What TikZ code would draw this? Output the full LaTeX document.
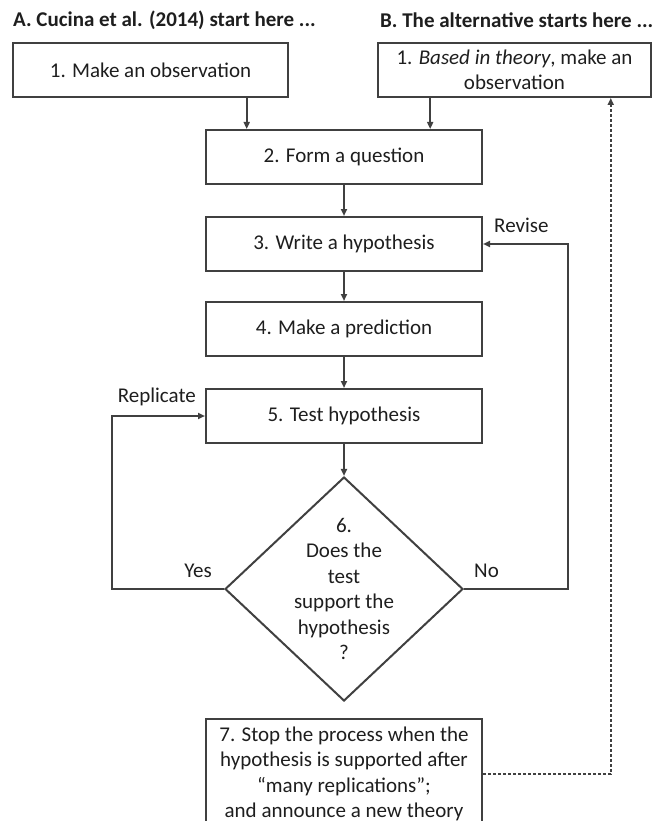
\documentclass[tikz,border=0pt]{standalone}
\usepackage{fontspec}
\setmainfont{Carlito}
\usetikzlibrary{shapes.geometric, arrows.meta, positioning, calc}
\definecolor{linegray}{HTML}{404040}
\definecolor{textgray}{HTML}{1E1E1E}

\begin{document}
\begin{tikzpicture}[
      x=1pt, y=-1pt,
      node distance=31pt,
      every node/.style={font=\fontsize{21}{25.5}\selectfont, text=textgray},
      stepbox/.style={rectangle, draw=linegray, line width=2pt, minimum width=276pt, minimum height=54pt, align=center, inner sep=2pt},
      decision/.style={diamond, draw=linegray, line width=2pt, minimum width=238pt, minimum height=224pt, inner sep=0pt},
      heading/.style={font=\bfseries\fontsize{21}{25.5}\selectfont, anchor=west, inner sep=0pt},
      arrow/.style={-{Triangle[length=7pt, width=6pt]}, draw=linegray, line width=1.8pt}
    ]
    \useasboundingbox (0,0) rectangle (653,821);

    % the two starting points
    \node[heading] (headA) at (13,20) {A. Cucina et al. (2014) start here ...};
    \node[heading] (headB) at (380,20) {B. The alternative starts here ...};
    \node[stepbox, minimum width=275pt] (obsA) at (150.5,70) {1. Make an observation};
    \node[stepbox, minimum width=273pt] (obsB) at (514.5,70) {1. \textit{Based in theory}, make an\\observation};

    % main chain
    \node[stepbox] (q2) at (344,157) {2. Form a question};
    \node[stepbox, below=of q2] (q3) {3. Write a hypothesis};
    \node[stepbox, below=29pt of q3] (q4) {4. Make a prediction};
    \node[stepbox, below=of q4] (q5) {5. Test hypothesis};
    \node[decision, below=32pt of q5] (q6) {};
    \node[align=center, inner sep=0pt] (q6text) at (q6) {6.\\Does the\\test\\support the\\hypothesis\\?};
    \node[stepbox, minimum height=110pt, below=16pt of q6] (q7) {7. Stop the process when the\\hypothesis is supported after\\“many replications”;\\and announce a new theory};

    \coordinate (inA) at ($(q2.north west)!0.15!(q2.north east)$);
    \coordinate (inB) at ($(q2.north west)!0.81!(q2.north east)$);
    \coordinate (backB) at ($(obsB.south west)!0.85!(obsB.south east)$);

    \draw[arrow] (obsA.south -| inA) -- (inA);
    \draw[arrow] (obsB.south -| inB) -- (inB);
    \draw[arrow] (q2) -- (q3);
    \draw[arrow] (q3) -- (q4);
    \draw[arrow] (q4) -- (q5);
    \draw[arrow] (q5) -- (q6);

    % loops
    \draw[arrow] (q6.west) -- ++(-112,0) |- (q5.west);
    \draw[arrow] (q6.east) -- ++(104,0) |- (q3.east);
    \node[above left=11pt and 12pt of q6.west, inner sep=0pt] (yes) {Yes};
    \node[above right=11pt and 10pt of q6.east, inner sep=0pt] (no) {No};
    \node[above left=10pt and 9pt of q5.west, inner sep=0pt] (replicate) {Replicate};
    \node[above right=11pt and 11pt of q3.east, inner sep=0pt] (revise) {Revise};

    \draw[arrow, densely dashed] (q7.east) -| (backB);
  \end{tikzpicture}
\end{document}
